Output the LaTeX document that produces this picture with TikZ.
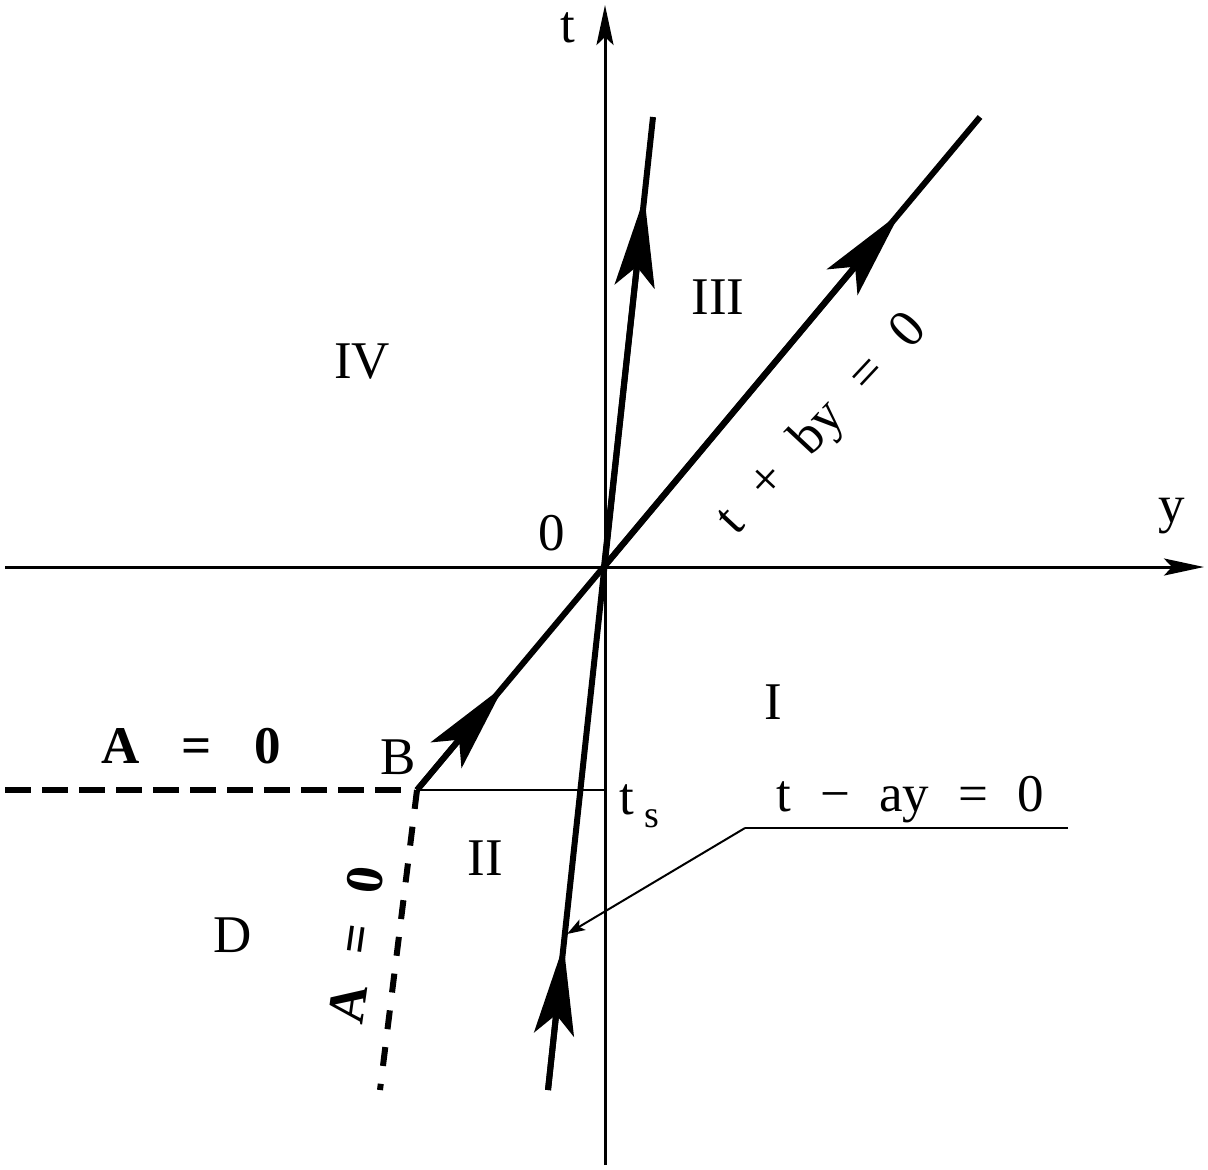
\documentclass[tikz,border=0pt]{standalone}
\usepackage{fontspec}
\setmainfont{Liberation Serif}
\usetikzlibrary{arrows.meta}
\begin{document}
\begin{tikzpicture}[x=0.5pt,y=-0.5pt,
  axisline/.style={line width=1.5pt},
  thickline/.style={line width=3pt},
  thinline/.style={line width=1pt},
  bigtip/.style={-{Stealth[length=45pt,width=20pt,inset=10pt]}},
  axistip/.style={-{Stealth[length=20pt,width=8.5pt,inset=4pt]}},
  smalltip/.style={-{Stealth[length=9pt,width=6pt,inset=2pt]}},
  lbl/.style={inner sep=0pt,font=\fontsize{26.5}{30}\selectfont},
  blbl/.style={inner sep=0pt,font=\fontsize{26.5}{30}\selectfont\bfseries}]
\useasboundingbox (0,0) rectangle (1208,1169);
% coordinates
\coordinate (O) at (604,567);
\coordinate (tb) at (605,1165);
\coordinate (tt) at (605,5);
\coordinate (yl) at (5,567);
\coordinate (yr) at (1204,567);
\coordinate (B) at (417,790);
\coordinate (P1) at (504,686);
\coordinate (P2) at (900,213);
\coordinate (PE) at (980,117);
\coordinate (Q0) at (548,1090);
\coordinate (Q1) at (563.6,945);
\coordinate (Q2) at (644.4,197);
\coordinate (QE) at (653,117);
\coordinate (TS) at (605,790);
\coordinate (DL) at (5,790);
\coordinate (DH) at (401,790);
\coordinate (DV) at (380,1090);
\coordinate (L0) at (745,828);
\coordinate (L1) at (1068,828);
\coordinate (L2) at (567,934);
% axes
\draw[axisline,axistip] (tb) -- (tt);
\draw[axisline,axistip] (yl) -- (yr);
% t_s line
\draw[thinline] (B) -- (TS);
% t + by = 0
\draw[thickline] (B) -- (PE);
\draw[thickline,bigtip] (B) -- (P1);
\draw[thickline,bigtip] (O) -- (P2);
% t - ay = 0
\draw[thickline] (Q0) -- (QE);
\draw[thickline,bigtip] (Q0) -- (Q1);
\draw[thickline,bigtip] (O) -- (Q2);
% A = 0 dashed
\draw[thickline,dash pattern=on 13pt off 5.5pt] (DL) -- (DH);
\draw[thickline,dash pattern=on 9.5pt off 9pt] (B) -- (DV);
% leader
\draw[thinline] (L1) -- (L0);
\draw[thinline,smalltip] (L0) -- (L2);
% labels
\node[lbl] (lt) at (568,28) {t};
\node[lbl] (ly) at (1172,516) {y};
\node[lbl] (l0) at (552,533) {0};
\node[lbl] (lIII) at (718,297) {III};
\node[lbl] (lIV) at (362,362) {IV};
\node[lbl] (lI) at (773,702) {I};
\node[lbl] (lII) at (485,858) {II};
\node[lbl] (lD) at (233,935) {D};
\node[lbl] (lB) at (398,757) {B};
\node[lbl,anchor=base west] (lts) at (619,814) {t\hspace{0.2em}\raisebox{-0.25em}{\fontsize{19}{22}\selectfont s}};
\node[blbl] (lA1) at (191,746) {A\hspace{0.8em}=\hspace{0.8em}0};
\node[blbl,rotate=82] (lA2) at (356,945) {A\hspace{0.6em}=\hspace{0.6em}0};
\node[lbl,rotate=47] (ltb) at (823,425) {t\hspace{0.6em}+\hspace{0.6em}by\hspace{0.6em}=\hspace{0.6em}0};
\node[lbl] (lta) at (910,800) {t\hspace{0.55em}−\hspace{0.55em}ay\hspace{0.55em}=\hspace{0.55em}0};
\end{tikzpicture}
\end{document}
